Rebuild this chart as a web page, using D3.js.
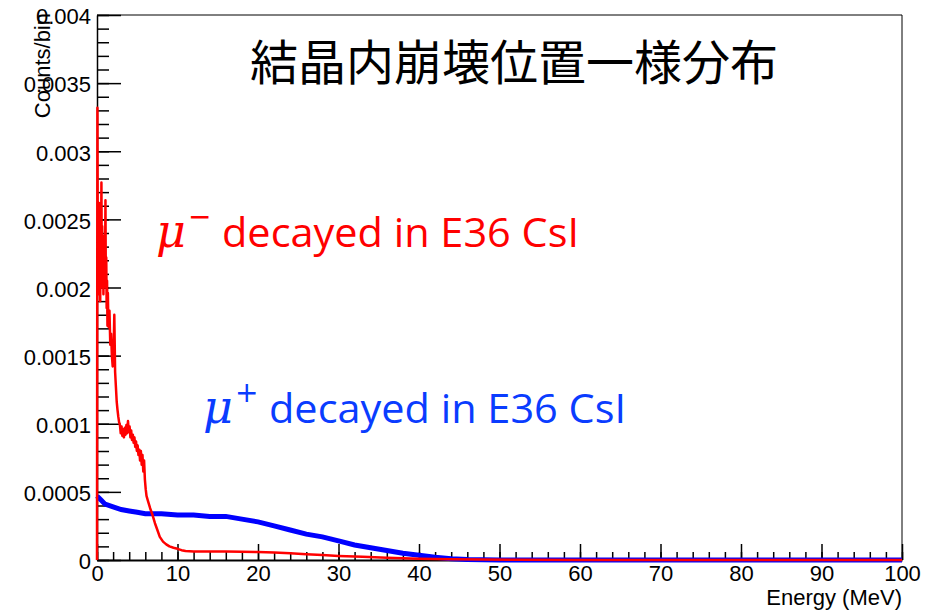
<!DOCTYPE html>
<html>
<head>
<meta charset="utf-8">
<script src="https://cdn.jsdelivr.net/npm/d3@7"></script>
<style>
  body { margin: 0; background: #fff; }
  .tick text { font-family: 'Liberation Sans', Arial, sans-serif; font-size: 22px; fill: #000; }
</style>
</head>
<body>
<div id="chart"></div>
<script>
// Histogram contents (energy in MeV, counts per bin).
const redEnergy = [0, 0.05, 0.1, 0.15, 0.2, 0.25, 0.3, 0.35, 0.4, 0.45, 0.5, 0.55, 0.6, 0.65, 0.7,
  0.75, 0.8, 0.85, 0.9, 0.95, 1.0, 1.05, 1.1, 1.15, 1.2, 1.25, 1.3, 1.35, 1.4,
  1.45, 1.55, 1.65, 1.75, 1.85, 1.95,
  2.05, 2.15, 2.25, 2.35, 2.45, 2.55, 2.65, 2.75, 2.85, 2.95,
  3.05, 3.15, 3.25, 3.35, 3.45, 3.55, 3.65, 3.75, 3.85, 3.95,
  4.05, 4.15, 4.25, 4.35, 4.45, 4.55, 4.65, 4.75, 4.85, 4.95,
  5.05, 5.15, 5.25, 5.35, 5.45, 5.55, 5.65, 5.75, 5.85, 5.95,
  6.05, 6.15, 6.3, 6.6, 6.9, 7.2, 7.5, 7.8, 8.2, 8.6, 9.0, 9.5, 10, 10.5, 11,
  12, 14, 16, 18, 20, 22, 24, 26, 28, 30, 33, 36, 40, 44, 48, 52, 60, 100];
const redCounts = [0, 0.00332, 0.00215, 0.00248, 0.00195, 0.00262, 0.00205, 0.0024, 0.0019, 0.00252, 0.00215, 0.00277, 0.002, 0.00245, 0.0021,
  0.00238, 0.00195, 0.00228, 0.00202, 0.00232, 0.0021, 0.00264, 0.002, 0.00222, 0.00185, 0.00205, 0.00172, 0.00196, 0.00178,
  0.00171, 0.00183, 0.00158, 0.00166, 0.0015, 0.00142,
  0.0015, 0.0018, 0.00138, 0.00127, 0.00116, 0.0011, 0.00105, 0.00101, 0.00099, 0.00093,
  0.00098, 0.00091, 0.00096, 0.0009, 0.00097, 0.00092, 0.00099, 0.00093, 0.00102, 0.00094,
  0.00098, 0.0009, 0.00095, 0.00088, 0.00092, 0.00086, 0.0009, 0.00083, 0.00087, 0.0008,
  0.00084, 0.00077, 0.00081, 0.00073, 0.0008, 0.0007, 0.00077, 0.00065, 0.00073, 0.00059,
  0.00052, 0.00047, 0.00044, 0.00038, 0.00033, 0.00027, 0.00022, 0.00017, 0.000135, 0.000115, 0.0001, 0.00009, 0.000082, 0.000072, 0.000066,
  0.000062, 0.000062, 0.000063, 0.00006, 0.000058, 0.000055, 0.00005, 0.000043, 0.000036, 0.00003, 0.000023, 0.000017, 0.00001, 0.000006, 0.000003, 0.000001, 0, 0];

const blueEnergy = [0, 0.5, 1, 2, 3, 4, 5, 6, 8, 10, 12, 14, 16, 18, 20, 22, 24, 26, 28,
  30, 32, 34, 36, 38, 40, 42, 44, 46, 48, 50, 100];
const blueCounts = [0.00047, 0.00044, 0.00041, 0.00039, 0.00037, 0.00036, 0.00035, 0.00034, 0.00034, 0.00033, 0.00033, 0.00032, 0.00032, 0.0003, 0.00028, 0.00025, 0.00022, 0.00019, 0.00017,
  0.00014, 0.00011, 0.00009, 0.00007, 0.00005, 0.000035, 0.00002, 0.00001, 0.000004, 0.000001, 0, 0];

// Axis ticks and labels.
const energyTicks = [0, 10, 20, 30, 40, 50, 60, 70, 80, 90, 100];
const countTicks = [0, 0.0005, 0.001, 0.0015, 0.002, 0.0025, 0.003, 0.0035, 0.004];
const countLabels = ['0', '0.0005', '0.001', '0.0015', '0.002', '0.0025', '0.003', '0.0035', '0.004'];

const titleText = '結晶内崩壊位置一様分布';

// Dimensions of chart.
const margin = { top: 15, right: 33, bottom: 53, left: 97 },
  width = 935 - margin.left - margin.right,
  height = 613 - margin.top - margin.bottom;

const root = d3
  .select('#chart')
  .append('svg')
  .attr('width', 935)
  .attr('height', 613);

const svg = root
  .append('g')
  .attr('transform', 'translate(' + margin.left + ',' + margin.top + ')');

const x = d3.scaleLinear().domain([0, 100]).range([0, width]);
const y = d3.scaleLinear().domain([0, 0.004]).range([height, 0]);

// Frame (top and right sides).
svg
  .append('path')
  .attr('d', 'M0,0H' + width + 'V' + height)
  .attr('fill', 'none')
  .attr('stroke', '#000')
  .attr('stroke-width', 1);

// Minor ticks, pointing inward like ROOT does.
svg
  .append('g')
  .attr('transform', 'translate(0,' + height + ')')
  .call(d3.axisBottom(x).tickValues(x.ticks(50)).tickSize(-8).tickSizeOuter(0).tickFormat(''))
  .call(g => g.select('.domain').remove())
  .call(g => g.selectAll('.tick line').attr('stroke-width', 1.5));

svg
  .append('g')
  .call(d3.axisLeft(y).tickValues(y.ticks(40)).tickSize(-12).tickSizeOuter(0).tickFormat(''))
  .call(g => g.select('.domain').remove())
  .call(g => g.selectAll('.tick line').attr('stroke-width', 1.5));

// Major ticks with labels.
svg
  .append('g')
  .attr('transform', 'translate(0,' + height + ')')
  .call(d3.axisBottom(x).tickValues(energyTicks).tickSize(-16).tickSizeOuter(0).tickPadding(5))
  .call(g => g.select('.domain').attr('stroke-width', 2))
  .call(g => g.selectAll('.tick line').attr('stroke-width', 1.5));

svg
  .append('g')
  .call(
    d3
      .axisLeft(y)
      .tickValues(countTicks)
      .tickSize(-24)
      .tickSizeOuter(0)
      .tickPadding(6)
      .tickFormat((d, i) => countLabels[i])
  )
  .call(g => g.select('.domain').attr('stroke-width', 1.5))
  .call(g => g.selectAll('.tick line').attr('stroke-width', 1.5))
  .call(g => g.selectAll('.tick text').attr('dy', '0.4em'));

// Histograms.
const line = d3
  .line()
  .x(d => x(d[0]))
  .y(d => y(d[1]));

svg
  .append('path')
  .datum(blueEnergy.map((e, i) => [e, blueCounts[i]]))
  .attr('d', line)
  .attr('fill', 'none')
  .attr('stroke', '#0000ff')
  .attr('stroke-width', 5);

svg
  .append('path')
  .datum(redEnergy.map((e, i) => [e, redCounts[i]]))
  .attr('d', line)
  .attr('fill', 'none')
  .attr('stroke', '#ff0000')
  .attr('stroke-width', 2.5)
  .attr('stroke-linejoin', 'round');

// Axis titles.
root
  .append('text')
  .attr('x', margin.left + width)
  .attr('y', 605)
  .attr('text-anchor', 'end')
  .attr('font-family', "'Liberation Sans', Arial, sans-serif")
  .attr('font-size', 22)
  .text('Energy (MeV)');

root
  .append('text')
  .attr('transform', 'translate(50,13) rotate(-90)')
  .attr('text-anchor', 'end')
  .attr('font-family', "'Liberation Sans', Arial, sans-serif")
  .attr('font-size', 22)
  .text('Counts/bin');

// Title.
root
  .append('text')
  .attr('x', 250)
  .attr('y', 80)
  .attr('font-family', "'Noto Sans CJK JP', sans-serif")
  .attr('font-size', 48)
  .attr('fill', '#000')
  .text(titleText);

// Annotations.
function label(xpos, ypos, sign, color) {
  const t = root
    .append('text')
    .attr('x', xpos)
    .attr('y', ypos)
    .attr('fill', color);
  t.append('tspan')
    .attr('font-family', "'DejaVu Serif', serif")
    .attr('font-style', 'italic')
    .attr('font-size', 46)
    .text('μ');
  t.append('tspan')
    .attr('font-family', "'DejaVu Sans', sans-serif")
    .attr('font-size', 28)
    .attr('dy', -21)
    .attr('dx', 2)
    .text(sign);
  root
    .append('text')
    .attr('x', xpos + 66)
    .attr('y', ypos)
    .attr('fill', color)
    .attr('font-family', "'Open Sans', sans-serif")
    .attr('font-size', 41)
    .attr('textLength', 357)
    .attr('lengthAdjust', 'spacingAndGlyphs')
    .text('decayed in E36 CsI');
}

label(156, 247, '−', '#ff0000');
label(203, 423, '+', '#0a3cff');
</script>
</body>
</html>
